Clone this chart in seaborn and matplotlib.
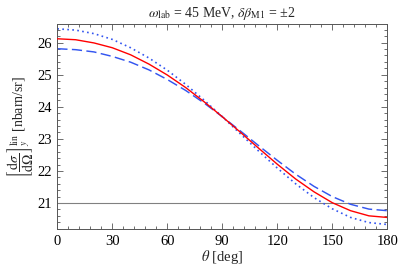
import numpy as np
import pandas as pd
import matplotlib
matplotlib.use("Agg")
import matplotlib.pyplot as plt
import seaborn as sns
from matplotlib.ticker import MultipleLocator

theta = [0, 10, 20, 30, 40, 50, 60, 70, 80, 90, 100, 110, 120, 130, 140, 150, 160, 170, 180]
central = [26.12, 26.09, 25.99, 25.84, 25.62, 25.33, 24.99, 24.60, 24.16, 23.69,
           23.20, 22.70, 22.21, 21.75, 21.35, 21.01, 20.76, 20.60, 20.55]
plus2 = [26.43, 26.39, 26.28, 26.10, 25.84, 25.52, 25.14, 24.70, 24.21, 23.69,
         23.15, 22.61, 22.09, 21.60, 21.17, 20.82, 20.55, 20.39, 20.33]
minus2 = [25.81, 25.78, 25.71, 25.57, 25.39, 25.15, 24.85, 24.51, 24.12, 23.69,
          23.24, 22.78, 22.33, 21.90, 21.52, 21.20, 20.96, 20.81, 20.76]
baseline = 21.0
xticks = [0, 30, 60, 90, 120, 150, 180]
yticks = [21, 22, 23, 24, 25, 26]

sns.set_theme(style="ticks")
plt.rcParams['font.family'] = ['Liberation Serif', 'DejaVu Serif']
plt.rcParams['mathtext.fontset'] = 'stix'

fig = plt.figure(figsize=(3.98, 2.71), dpi=100)
ax = fig.add_axes([0.144, 0.155, 0.829, 0.7564])

df = pd.DataFrame({"theta": theta, "central": central, "plus2": plus2, "minus2": minus2})

ax.axhline(baseline, color="#808080", lw=0.8, zorder=1)
sns.lineplot(data=df, x="theta", y="minus2", ax=ax, color="#3355f0", lw=1.05,
             linestyle=(0, (7, 3)), zorder=2)
sns.lineplot(data=df, x="theta", y="plus2", ax=ax, color="#3355f0", lw=1.2,
             linestyle=(0, (1, 2.0)), zorder=2)
sns.lineplot(data=df, x="theta", y="central", ax=ax, color="#ff0000", lw=1.0, zorder=3)

ax.set_xlim(0, 180)
ax.set_ylim(20.19, 26.58)
ax.set_xticks(xticks)
ax.set_yticks(yticks)
ax.xaxis.set_minor_locator(MultipleLocator(6))
ax.yaxis.set_minor_locator(MultipleLocator(0.2))
ax.tick_params(which="both", direction="in", top=True, right=True, colors="#555555",
               labelcolor="black", labelsize=10.5, width=0.6)
ax.tick_params(which="major", length=4, pad=4)
ax.tick_params(which="minor", length=2)
for s in ax.spines.values():
    s.set_color("#555555")
    s.set_linewidth(0.7)

ax.set_xlabel(r"$\theta$ [deg]", fontsize=10.5, labelpad=0)
ax.set_ylabel(r"$\left[\dfrac{\mathrm{d}\sigma}{\mathrm{d}\Omega}\right]_y^{\mathrm{lin}}$ [nbarn/sr]",
              fontsize=10, labelpad=1)
ax.set_title(r"$\omega_{\mathrm{lab}}$ = 45 MeV, $\delta\beta_{\mathrm{M1}}$ = ±2", fontsize=10, pad=5)

fig.savefig("out.png", dpi=100)
